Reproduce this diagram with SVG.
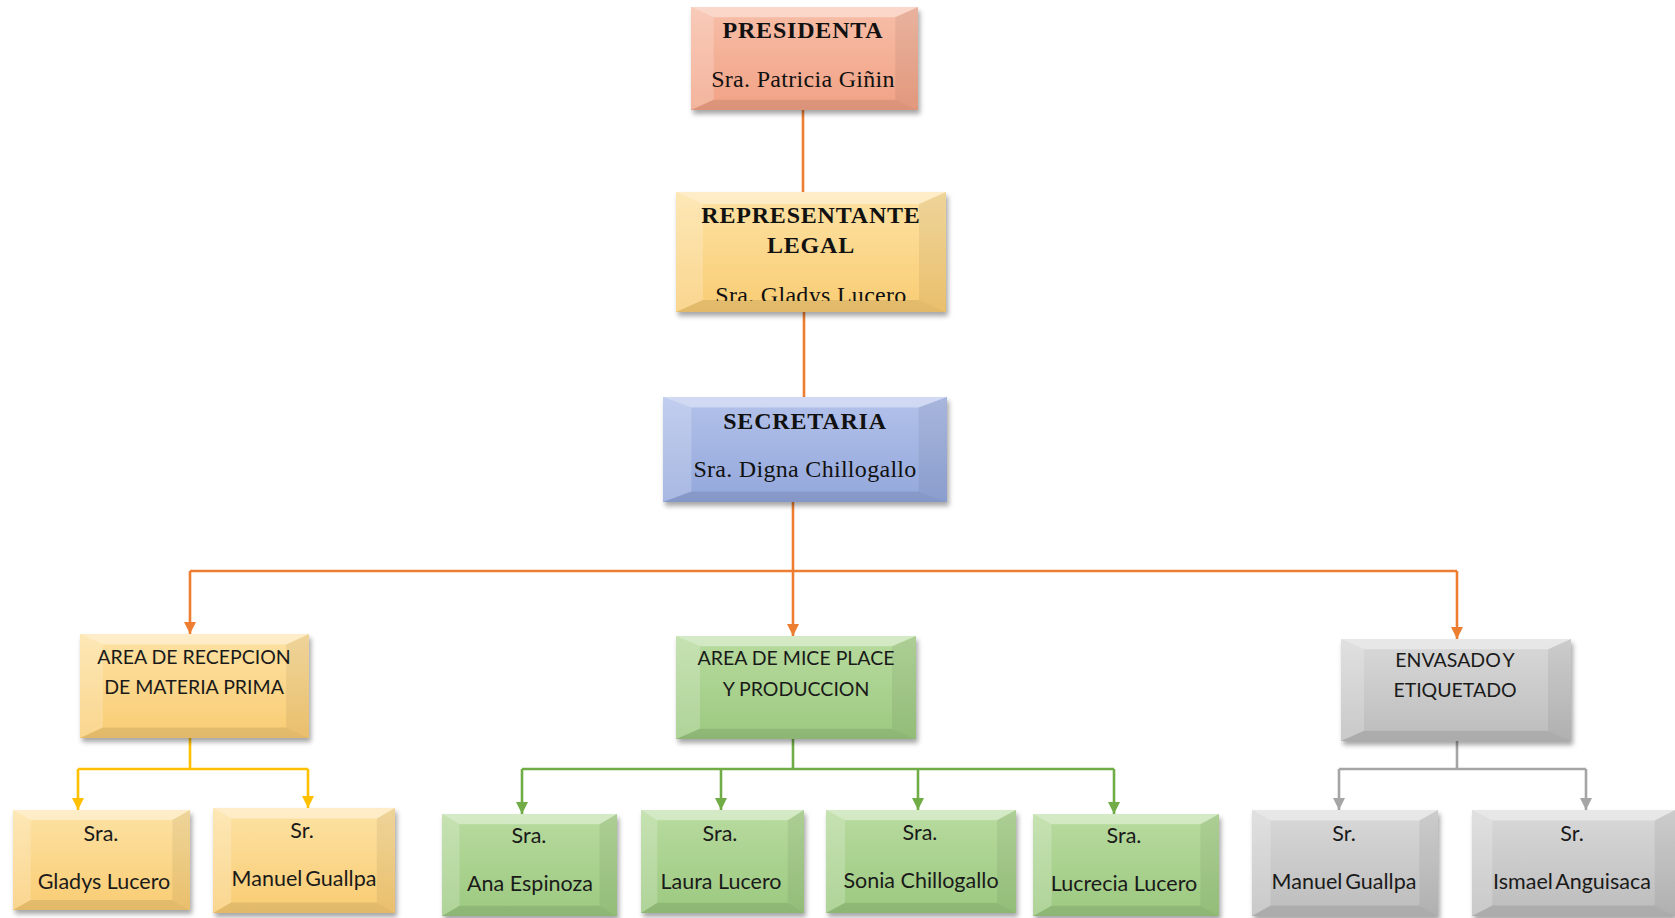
<svg xmlns="http://www.w3.org/2000/svg" width="1675" height="918" viewBox="0 0 1675 918">
<style>
.serifB{font-family:"Liberation Serif","Times New Roman",serif;font-weight:bold;font-size:24px;fill:#111;text-anchor:middle;letter-spacing:0.8px}
.serif{font-family:"Liberation Serif","Times New Roman",serif;font-size:24px;fill:#111;text-anchor:middle;letter-spacing:0.3px}
.area{font-family:Lato,"Open Sans",sans-serif;font-size:19.5px;fill:#1a1a1a;text-anchor:middle}
.leaf{font-family:Lato,"Open Sans",sans-serif;font-size:21.5px;fill:#1a1a1a;text-anchor:middle}
.tight{word-spacing:-2.5px}
.box{filter:url(#sh)}
.c{fill:none;stroke-width:2.6}
.or{stroke:#ed7d31}.ye{stroke:#ffc000}.gr{stroke:#70ad47}.gy{stroke:#a5a5a5}
</style>
<defs>
<filter id="sh" x="-10%" y="-10%" width="125%" height="130%">
<feDropShadow dx="2" dy="4" stdDeviation="2.5" flood-color="#000" flood-opacity="0.35"/>
</filter>
<linearGradient id="gSal" x1="0" y1="0" x2="0" y2="1"><stop offset="0" stop-color="#f7bea8"/><stop offset="1" stop-color="#f1a285"/></linearGradient>
<linearGradient id="gYel" x1="0" y1="0" x2="0" y2="1"><stop offset="0" stop-color="#fde2a4"/><stop offset="1" stop-color="#f9cc73"/></linearGradient>
<linearGradient id="gBlu" x1="0" y1="0" x2="0" y2="1"><stop offset="0" stop-color="#b3c2ea"/><stop offset="1" stop-color="#93a7db"/></linearGradient>
<linearGradient id="gGrn" x1="0" y1="0" x2="0" y2="1"><stop offset="0" stop-color="#b8db9f"/><stop offset="1" stop-color="#9cc980"/></linearGradient>
<linearGradient id="gGry" x1="0" y1="0" x2="0" y2="1"><stop offset="0" stop-color="#d9d9d9"/><stop offset="1" stop-color="#bcbcbc"/></linearGradient>
<symbol id="bevel" viewBox="0 0 100 100" preserveAspectRatio="none">
<polygon points="0,0 100,0 90,10 10,10" fill="#fff" fill-opacity="0.4"/>
<polygon points="0,0 10,10 10,90 0,100" fill="#fff" fill-opacity="0.2"/>
<polygon points="100,0 100,100 90,90 90,10" fill="#000" fill-opacity="0.06"/>
<polygon points="0,100 10,90 90,90 100,100" fill="#000" fill-opacity="0.09"/>
</symbol>
<marker id="aOr" markerUnits="userSpaceOnUse" markerWidth="12" markerHeight="12" refX="10" refY="5" orient="auto" viewBox="0 0 10 10"><path d="M0,0 L10,5 L0,10 z" fill="#ed7d31"/></marker>
<marker id="aYe" markerUnits="userSpaceOnUse" markerWidth="12" markerHeight="12" refX="10" refY="5" orient="auto" viewBox="0 0 10 10"><path d="M0,0 L10,5 L0,10 z" fill="#ffc000"/></marker>
<marker id="aGr" markerUnits="userSpaceOnUse" markerWidth="12" markerHeight="12" refX="10" refY="5" orient="auto" viewBox="0 0 10 10"><path d="M0,0 L10,5 L0,10 z" fill="#70ad47"/></marker>
<marker id="aGy" markerUnits="userSpaceOnUse" markerWidth="12" markerHeight="12" refX="10" refY="5" orient="auto" viewBox="0 0 10 10"><path d="M0,0 L10,5 L0,10 z" fill="#a5a5a5"/></marker>
<clipPath id="repClip"><rect x="676" y="192" width="270" height="109"/></clipPath>
</defs>
<rect width="1675" height="918" fill="#fff"/>

<g id="connectors">
<path class="c or" d="M803,110 V192"/>
<path class="c or" d="M804,312 V397"/>
<path class="c or" d="M793,502 V571"/>
<path class="c or" d="M190,571 H1457"/>
<path class="c or" d="M190,571 V634" marker-end="url(#aOr)"/>
<path class="c or" d="M793,571 V636" marker-end="url(#aOr)"/>
<path class="c or" d="M1457,571 V639" marker-end="url(#aOr)"/>
<path class="c ye" d="M190,738 V769 M78,769 H308"/>
<path class="c ye" d="M78,769 V810" marker-end="url(#aYe)"/>
<path class="c ye" d="M308,769 V808" marker-end="url(#aYe)"/>
<path class="c gr" d="M793,739 V769 M522,769 H1114"/>
<path class="c gr" d="M522,769 V814" marker-end="url(#aGr)"/>
<path class="c gr" d="M721,769 V810" marker-end="url(#aGr)"/>
<path class="c gr" d="M918,769 V810" marker-end="url(#aGr)"/>
<path class="c gr" d="M1114,769 V814" marker-end="url(#aGr)"/>
<path class="c gy" d="M1457,741 V769 M1339,769 H1586"/>
<path class="c gy" d="M1339,769 V810" marker-end="url(#aGy)"/>
<path class="c gy" d="M1586,769 V810" marker-end="url(#aGy)"/>
</g>

<g id="presidenta">
<rect class="box" x="691" y="7" width="227" height="103" fill="url(#gSal)"/>
<use href="#bevel" x="691" y="7" width="227" height="103"/>
<text class="serifB" x="803" y="38">PRESIDENTA</text>
<text class="serif" x="803" y="87">Sra. Patricia Giñin</text>
</g>

<g id="representante">
<rect class="box" x="676" y="192" width="270" height="120" fill="url(#gYel)"/>
<use href="#bevel" x="676" y="192" width="270" height="120"/>
<text class="serifB" x="811" y="223">REPRESENTANTE</text>
<text class="serifB" x="811" y="253">LEGAL</text>
<text class="serif" x="811" y="303" clip-path="url(#repClip)">Sra. Gladys Lucero</text>
</g>

<g id="secretaria">
<rect class="box" x="663" y="397" width="284" height="105" fill="url(#gBlu)"/>
<use href="#bevel" x="663" y="397" width="284" height="105"/>
<text class="serifB" x="805" y="429">SECRETARIA</text>
<text class="serif" x="805" y="477">Sra. Digna Chillogallo</text>
</g>

<g id="recepcion">
<rect class="box" x="80" y="634" width="229" height="104" fill="url(#gYel)"/>
<use href="#bevel" x="80" y="634" width="229" height="104"/>
<text class="area" x="194" y="664">AREA DE RECEPCION</text>
<text class="area" x="194" y="694">DE MATERIA PRIMA</text>
</g>

<g id="miceplace">
<rect class="box" x="676" y="636" width="240" height="103" fill="url(#gGrn)"/>
<use href="#bevel" x="676" y="636" width="240" height="103"/>
<text class="area" x="796" y="665">AREA DE MICE PLACE</text>
<text class="area" x="796" y="696">Y PRODUCCION</text>
</g>

<g id="envasado">
<rect class="box" x="1341" y="639" width="230" height="102" fill="url(#gGry)"/>
<use href="#bevel" x="1341" y="639" width="230" height="102"/>
<text class="area tight" x="1455" y="667">ENVASADO Y</text>
<text class="area" x="1455" y="697">ETIQUETADO</text>
</g>

<g id="gladys">
<rect class="box" x="13" y="810" width="177" height="100" fill="url(#gYel)"/>
<use href="#bevel" x="13" y="810" width="177" height="100"/>
<text class="leaf" x="101" y="841">Sra.</text>
<text class="leaf" x="104" y="889">Gladys Lucero</text>
</g>

<g id="manuel1">
<rect class="box" x="213" y="808" width="182" height="105" fill="url(#gYel)"/>
<use href="#bevel" x="213" y="808" width="182" height="105"/>
<text class="leaf" x="302" y="838">Sr.</text>
<text class="leaf tight" x="304" y="886">Manuel Guallpa</text>
</g>

<g id="ana">
<rect class="box" x="442" y="814" width="175" height="102" fill="url(#gGrn)"/>
<use href="#bevel" x="442" y="814" width="175" height="102"/>
<text class="leaf" x="529" y="843">Sra.</text>
<text class="leaf" x="530" y="891">Ana Espinoza</text>
</g>

<g id="laura">
<rect class="box" x="641" y="810" width="163" height="103" fill="url(#gGrn)"/>
<use href="#bevel" x="641" y="810" width="163" height="103"/>
<text class="leaf" x="720" y="841">Sra.</text>
<text class="leaf" x="721" y="889">Laura Lucero</text>
</g>

<g id="sonia">
<rect class="box" x="826" y="810" width="190" height="103" fill="url(#gGrn)"/>
<use href="#bevel" x="826" y="810" width="190" height="103"/>
<text class="leaf" x="920" y="840">Sra.</text>
<text class="leaf" x="921" y="888">Sonia Chillogallo</text>
</g>

<g id="lucrecia">
<rect class="box" x="1033" y="814" width="186" height="102" fill="url(#gGrn)"/>
<use href="#bevel" x="1033" y="814" width="186" height="102"/>
<text class="leaf" x="1124" y="843">Sra.</text>
<text class="leaf" x="1124" y="891">Lucrecia Lucero</text>
</g>

<g id="manuel2">
<rect class="box" x="1252" y="810" width="186" height="106" fill="url(#gGry)"/>
<use href="#bevel" x="1252" y="810" width="186" height="106"/>
<text class="leaf" x="1344" y="841">Sr.</text>
<text class="leaf tight" x="1344" y="889">Manuel Guallpa</text>
</g>

<g id="ismael">
<rect class="box" x="1472" y="810" width="203" height="106" fill="url(#gGry)"/>
<use href="#bevel" x="1472" y="810" width="203" height="106"/>
<text class="leaf" x="1572" y="841">Sr.</text>
<text class="leaf tight" x="1572" y="889">Ismael Anguisaca</text>
</g>
</svg>
